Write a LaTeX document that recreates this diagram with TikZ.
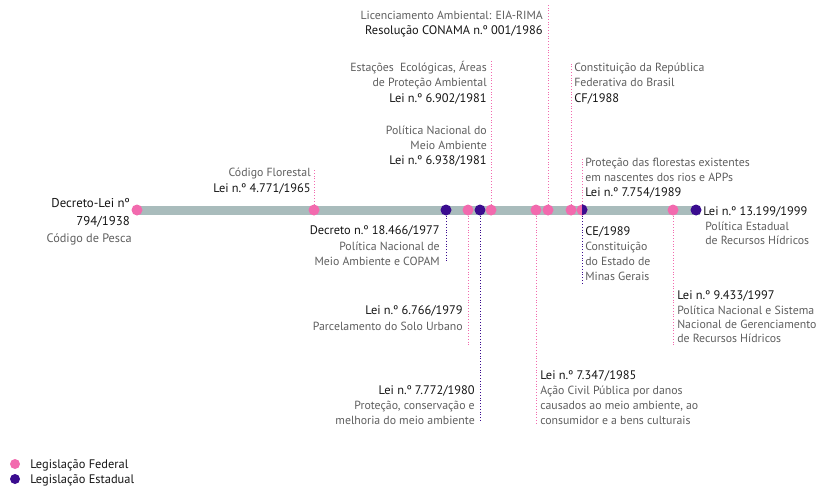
\documentclass[tikz,border=0pt]{standalone}
\usepackage{fontspec}
\setmainfont{PT Sans}
\definecolor{fed}{HTML}{F26AAE}
\definecolor{est}{HTML}{3A0C8F}
\definecolor{barc}{HTML}{A9BCBC}
\definecolor{dsc}{HTML}{5E5E5E}
\definecolor{ttl}{HTML}{141414}
\pgfdeclarelayer{bg}
\pgfsetlayers{bg,main}
\begin{document}
\begin{tikzpicture}[x=0.75pt,y=-0.75pt,
  fdot/.style={circle,fill=fed,inner sep=0,minimum size=8.25pt},
  edot/.style={circle,fill=est,inner sep=0,minimum size=8.25pt},
  fline/.style={draw=fed,line width=0.6pt,dash pattern=on 0.6pt off 1.5pt},
  eline/.style={draw=est,line width=0.6pt,dash pattern=on 0.6pt off 1.5pt},
  tt/.style={inner sep=0,text=ttl,font=\fontsize{9.3}{11}\selectfont},
  ds/.style={inner sep=0,text=dsc,font=\fontsize{8.85}{11}\selectfont},
  big/.style={inner sep=0,text=ttl,font=\fontsize{9.6}{12}\selectfont},
  bigd/.style={inner sep=0,text=dsc,font=\fontsize{9.2}{11}\selectfont}]
\useasboundingbox (0,0) rectangle (816,485);

% dots
\node[fdot] (d1938) at (137,210) {};
\node[fdot] (d1965) at (314,210) {};
\node[edot] (d1977) at (446,210) {};
\node[fdot] (d1979) at (468,210) {};
\node[edot] (d1980) at (480,210) {};
\node[fdot] (d1981) at (491,210) {};
\node[fdot] (d1985) at (536,210) {};
\node[fdot] (d1986) at (548,210) {};
\node[fdot] (d1988) at (571,210) {};
\node[fdot] (d1989) at (582,210) {};
\node[fdot] (d1997) at (673,210) {};
\node[edot] (d1999) at (696,210) {};
\fill[est] (d1989.north) arc[start angle=90,end angle=-90,radius=4.125pt] -- cycle;

% line ends
\coordinate (e1965) at (314,170);
\coordinate (e1977) at (446,263);
\coordinate (e1979) at (468,345);
\coordinate (e1980) at (480,422);
\coordinate (e1981) at (491,60);
\coordinate (e1985) at (536,425);
\coordinate (e1986) at (548,3);
\coordinate (e1988) at (571,62);
\coordinate (e1989u) at (582,158);
\coordinate (e1989d) at (582,283);
\coordinate (e1997) at (673,346);

\begin{pgfonlayer}{bg}
\draw[fline] (d1965.center) -- (e1965);
\draw[eline] (d1977.center) -- (e1977);
\draw[fline] (d1979.center) -- (e1979);
\draw[eline] (d1980.center) -- (e1980);
\draw[fline] (d1981.center) -- (e1981);
\draw[fline] (d1985.center) -- (e1985);
\draw[fline] (d1986.center) -- (e1986);
\draw[fline] (d1988.center) -- (e1988);
\draw[fline] (d1989.center) -- (e1989u);
\draw[eline] (d1989.center) -- (e1989d);
\draw[fline] (d1997.center) -- (e1997);
\fill[barc] (d1938.center) ++(0,-4.5) rectangle (700,214.5);
\end{pgfonlayer}

% 1938
\node[big,anchor=base east] (t38a) at (130,207) {Decreto-Lei nº};
\node[big,anchor=base east] (t38b) at (130,225) {794/1938};
\node[bigd,anchor=base east] (t38c) at (132,242) {Código de Pesca};
% 1965
\node[ds,anchor=base east] (t65a) at (311,176) {Código Florestal};
\node[tt,anchor=base east] (t65b) at (311,192) {Lei n.º 4.771/1965};
% 1977
\node[tt,anchor=base east] (t77a) at (440,234) {Decreto n.º 18.466/1977};
\node[ds,anchor=base east] (t77b) at (440,250) {Política Nacional de};
\node[ds,anchor=base east] (t77c) at (440,265) {Meio Ambiente e COPAM};
% 1979
\node[tt,anchor=base east] (t79a) at (463,314) {Lei n.º 6.766/1979};
\node[ds,anchor=base east] (t79b) at (463,330) {Parcelamento do Solo Urbano};
% 1980
\node[tt,anchor=base east] (t80a) at (475,394) {Lei n.º 7.772/1980};
\node[ds,anchor=base east] (t80b) at (475,409) {Proteção, conservação e};
\node[ds,anchor=base east] (t80c) at (475,424) {melhoria do meio ambiente};
% 1981 a
\node[ds,anchor=base east] (t81a) at (487,71) {Estações\ \ Ecológicas, Áreas};
\node[ds,anchor=base east] (t81b) at (487,86) {de Proteção Ambiental};
\node[tt,anchor=base east] (t81c) at (487,102) {Lei n.º 6.902/1981};
% 1981 b
\node[ds,anchor=base east] (t81d) at (487,134) {Política Nacional do};
\node[ds,anchor=base east] (t81e) at (487,149) {Meio Ambiente};
\node[tt,anchor=base east] (t81f) at (487,164) {Lei n.º 6.938/1981};
% 1986
\node[ds,anchor=base east] (t86a) at (543,20) {Licenciamento Ambiental: EIA-RIMA};
\node[tt,anchor=base east] (t86b) at (543,35) {Resolução CONAMA n.º 001/1986};
% 1988
\node[ds,anchor=base west] (t88a) at (574,71) {Constituição da República};
\node[ds,anchor=base west] (t88b) at (574,86) {Federativa do Brasil};
\node[tt,anchor=base west] (t88c) at (574,102) {CF/1988};
% 1989 up
\node[ds,anchor=base west] (t89a) at (585,166) {Proteção das florestas existentes};
\node[ds,anchor=base west] (t89b) at (585,181) {em nascentes dos rios e APPs};
\node[tt,anchor=base west] (t89c) at (585,196) {Lei n.º 7.754/1989};
% 1989 down
\node[tt,anchor=base west] (t89d) at (585,235) {CE/1989};
\node[ds,anchor=base west] (t89e) at (585,250) {Constituição};
\node[ds,anchor=base west] (t89f) at (585,265) {do Estado de};
\node[ds,anchor=base west] (t89g) at (585,280) {Minas Gerais};
% 1985
\node[tt,anchor=base west] (t85a) at (540,379) {Lei n.º 7.347/1985};
\node[ds,anchor=base west] (t85b) at (540,394) {Ação Civil Pública por danos};
\node[ds,anchor=base west] (t85c) at (540,409) {causados ao meio ambiente, ao};
\node[ds,anchor=base west] (t85d) at (540,424) {consumidor e a bens culturais};
% 1997
\node[tt,anchor=base west] (t97a) at (677,299) {Lei n.º 9.433/1997};
\node[ds,anchor=base west] (t97b) at (677,314) {Política Nacional e Sistema};
\node[ds,anchor=base west] (t97c) at (677,328) {Nacional de Gerenciamento};
\node[ds,anchor=base west] (t97d) at (677,342) {de Recursos Hídricos};
% 1999
\node[tt,anchor=base west] (t99a) at (703,215) {Lei n.º 13.199/1999};
\node[ds,anchor=base west] (t99b) at (705,230) {Política Estadual};
\node[ds,anchor=base west] (t99c) at (705,244) {de Recursos Hídricos};

% legend
\node[fdot,minimum size=7.5pt] (lf) at (15,464) {};
\node[edot,minimum size=7.5pt] (le) at (15,479) {};
\node[tt,anchor=base west] (lft) at (30,468) {Legislação Federal};
\node[tt,anchor=base west] (let) at (30,483) {Legislação Estadual};
\end{tikzpicture}
\end{document}
